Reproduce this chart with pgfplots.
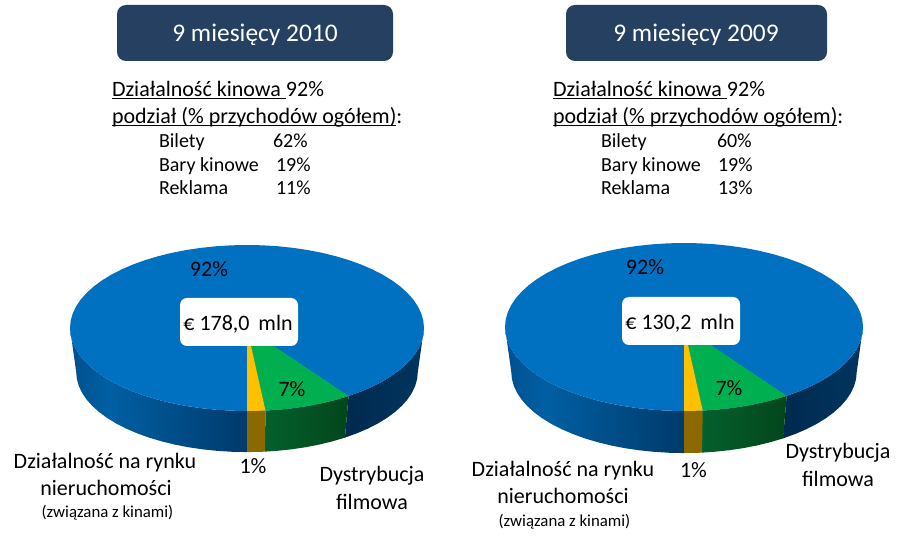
\documentclass[border=0pt]{standalone}
\usepackage{fontspec}
\setmainfont{Carlito}
\usepackage{pgfplots}
\usepackage{pgfplotstable}
\pgfplotsset{compat=1.18}
\definecolor{navy}{HTML}{254061}
\definecolor{topblue}{HTML}{0070C0}
\definecolor{topgreen}{HTML}{00B050}
\definecolor{topamber}{HTML}{FFC000}
\definecolor{sideamber}{HTML}{8C6900}
\definecolor{blA}{HTML}{00508E}
\definecolor{blB}{HTML}{005FA3}
\definecolor{blC}{HTML}{00528F}
\definecolor{blD}{HTML}{003A6B}
\definecolor{brA}{HTML}{002A4F}
\definecolor{brB}{HTML}{00355F}
\definecolor{grA}{HTML}{04602C}
\definecolor{grB}{HTML}{03461C}
% side shadings, the path fits between 25bp and 75bp
\pgfdeclarehorizontalshading{sideblueL}{100bp}{
  color(0bp)=(blA); color(25bp)=(blA); color(36bp)=(blB);
  color(50bp)=(blC); color(75bp)=(blD); color(100bp)=(blD)}
\pgfdeclarehorizontalshading{sideblueR}{100bp}{
  color(0bp)=(brA); color(25bp)=(brA); color(75bp)=(brB); color(100bp)=(brB)}
\pgfdeclarehorizontalshading{sidegreen}{100bp}{
  color(0bp)=(grA); color(25bp)=(grA); color(75bp)=(grB); color(100bp)=(grB)}
% unit pie outline, d=1 is the lower rim
\pgfplotstableread{
x y
1.0000 0
.9962 .0872
.9848 .1736
.9659 .2588
.9397 .3420
.9063 .4226
.8660 .5000
.8192 .5736
.7660 .6428
.7071 .7071
.6428 .7660
.5736 .8192
.5000 .8660
.4226 .9063
.3420 .9397
.2588 .9659
.1736 .9848
.0872 .9962
0 1
-.0872 .9962
-.1736 .9848
-.2588 .9659
-.3420 .9397
-.4226 .9063
-.5000 .8660
-.5736 .8192
-.6428 .7660
-.7071 .7071
-.7660 .6428
-.8192 .5736
-.8660 .5000
-.9063 .4226
-.9397 .3420
-.9659 .2588
-.9848 .1736
-.9962 .0872
-1.0000 0
-.9962 -.0872
-.9848 -.1736
-.9659 -.2588
-.9397 -.3420
-.9063 -.4226
-.8660 -.5000
-.8192 -.5736
-.7660 -.6428
-.7071 -.7071
-.6428 -.7660
-.5736 -.8192
-.5000 -.8660
-.4226 -.9063
-.3420 -.9397
-.2588 -.9659
-.1736 -.9848
-.0872 -.9962
0 -1
.0872 -.9962
.1736 -.9848
.2588 -.9659
.3420 -.9397
.4226 -.9063
.5000 -.8660
.5736 -.8192
.6428 -.7660
.7071 -.7071
.7660 -.6428
.8192 -.5736
.8660 -.5000
.9063 -.4226
.9397 -.3420
.9659 -.2588
.9848 -.1736
.9962 -.0872
}\topface
\pgfplotstableread{
x y
0 0
.5736 .8192
.5000 .8660
.4226 .9063
.3420 .9397
.2588 .9659
.1736 .9848
.1045 .9945
}\wedgegreen
\pgfplotstableread{
x y
0 0
.1045 .9945
.0872 .9962
0 1
}\wedgeamber
\pgfplotstableread{
x y d
0 1 0
-.0872 .9962 0
-.1736 .9848 0
-.2588 .9659 0
-.3420 .9397 0
-.4226 .9063 0
-.5000 .8660 0
-.5736 .8192 0
-.6428 .7660 0
-.7071 .7071 0
-.7660 .6428 0
-.8192 .5736 0
-.8660 .5000 0
-.9063 .4226 0
-.9397 .3420 0
-.9659 .2588 0
-.9848 .1736 0
-.9962 .0872 0
-1.0000 0 0
-1.0000 0 1
-.9962 .0872 1
-.9848 .1736 1
-.9659 .2588 1
-.9397 .3420 1
-.9063 .4226 1
-.8660 .5000 1
-.8192 .5736 1
-.7660 .6428 1
-.7071 .7071 1
-.6428 .7660 1
-.5736 .8192 1
-.5000 .8660 1
-.4226 .9063 1
-.3420 .9397 1
-.2588 .9659 1
-.1736 .9848 1
-.0872 .9962 1
0 1 1
}\sideleft
\pgfplotstableread{
x y d
1.0000 0 0
.9962 .0872 0
.9848 .1736 0
.9659 .2588 0
.9397 .3420 0
.9063 .4226 0
.8660 .5000 0
.8192 .5736 0
.7660 .6428 0
.7071 .7071 0
.6428 .7660 0
.5736 .8192 0
.5736 .8192 1
.6428 .7660 1
.7071 .7071 1
.7660 .6428 1
.8192 .5736 1
.8660 .5000 1
.9063 .4226 1
.9397 .3420 1
.9659 .2588 1
.9848 .1736 1
.9962 .0872 1
1.0000 0 1
}\sideright
\pgfplotstableread{
x y d
.5736 .8192 0
.5000 .8660 0
.4226 .9063 0
.3420 .9397 0
.2588 .9659 0
.1736 .9848 0
.1045 .9945 0
.1045 .9945 1
.1736 .9848 1
.2588 .9659 1
.3420 .9397 1
.4226 .9063 1
.5000 .8660 1
.5736 .8192 1
}\sidegreentab
\pgfplotstableread{
x y d
.1045 .9945 0
.0872 .9962 0
0 1 0
0 1 1
.0872 .9962 1
.1045 .9945 1
}\sideambertab
% pie: cx cy rx ry depth
\newcommand{\pie}[5]{
  \addplot[draw=none,shading=sideblueL] table[x expr={#1+#3*\thisrow{x}*(1-.035*\thisrow{d})},y expr={#2+#4*\thisrow{y}*(1-.035*\thisrow{d})+#5*\thisrow{d}}] {\sideleft} -- cycle;
  \addplot[draw=none,shading=sideblueR] table[x expr={#1+#3*\thisrow{x}*(1-.035*\thisrow{d})},y expr={#2+#4*\thisrow{y}*(1-.035*\thisrow{d})+#5*\thisrow{d}}] {\sideright} -- cycle;
  \addplot[draw=none,shading=sidegreen] table[x expr={#1+#3*\thisrow{x}*(1-.035*\thisrow{d})},y expr={#2+#4*\thisrow{y}*(1-.035*\thisrow{d})+#5*\thisrow{d}}] {\sidegreentab} -- cycle;
  \addplot[draw=none,fill=sideamber] table[x expr={#1+#3*\thisrow{x}*(1-.035*\thisrow{d})},y expr={#2+#4*\thisrow{y}*(1-.035*\thisrow{d})+#5*\thisrow{d}}] {\sideambertab} -- cycle;
  \addplot[draw=none,fill=topblue] table[x expr={#1+#3*\thisrow{x}},y expr={#2+#4*\thisrow{y}}] {\topface} -- cycle;
  \addplot[draw=none,fill=topgreen] table[x expr={#1+#3*\thisrow{x}},y expr={#2+#4*\thisrow{y}}] {\wedgegreen} -- cycle;
  \addplot[draw=none,fill=topamber] table[x expr={#1+#3*\thisrow{x}},y expr={#2+#4*\thisrow{y}}] {\wedgeamber} -- cycle;
}
\newcommand{\ul}[1]{\leavevmode\setbox0\hbox{#1}\rlap{\rule[-2.4pt]{\wd0}{1.1pt}}\box0\relax}
\newcommand{\fsz}[1]{\fontsize{#1}{#1}\selectfont}
\begin{document}
\begin{tikzpicture}[every node/.style={inner sep=0pt, outer sep=0pt}]
\begin{axis}[
  scale only axis, width=903pt, height=537pt,
  xmin=0, xmax=903, ymin=0, ymax=537, y dir=reverse,
  hide axis, clip=false,
]
\path (axis cs:0,0) rectangle (axis cs:903,537);
\pie{247}{328}{177}{83}{44}
\pie{684}{327}{179}{84}{45}

\fill[navy,rounded corners=9pt] (axis cs:117,5) rectangle (axis cs:393,61);
\fill[navy,rounded corners=9pt] (axis cs:566,5) rectangle (axis cs:827,61);
\node[white,anchor=base] at (axis cs:255,42) {\fsz{25.4}9 miesięcy 2010};
\node[white,anchor=base] at (axis cs:696,42) {\fsz{25.4}9 miesięcy 2009};

\fill[white,rounded corners=7pt] (axis cs:180,298) rectangle (axis cs:298,346);
\fill[white,rounded corners=7pt] (axis cs:622,297) rectangle (axis cs:740,345);
\node[anchor=base] at (axis cs:238,331) {\fsz{22}€ 178,0\hspace{.4em}mln};
\node[anchor=base] at (axis cs:680,330) {\fsz{22}€ 130,2\hspace{.4em}mln};

\node[anchor=base west] at (axis cs:112,97) {\fsz{22}\ul{Działalność kinowa }92\%};
\node[anchor=base west] at (axis cs:112,124) {\fsz{22}\ul{podział (\% przychodów ogółem)}:};
\node[anchor=base west] at (axis cs:159,148) {\fsz{20}Bilety};
\node[anchor=base west] at (axis cs:159,172) {\fsz{20}Bary kinowe};
\node[anchor=base west] at (axis cs:159,195) {\fsz{20}Reklama};
\node[anchor=base west] at (axis cs:273,148) {\fsz{20}62\%};
\node[anchor=base west] at (axis cs:276,172) {\fsz{20}19\%};
\node[anchor=base west] at (axis cs:276,195) {\fsz{20}11\%};

\node[anchor=base west] at (axis cs:553,97) {\fsz{22}\ul{Działalność kinowa }92\%};
\node[anchor=base west] at (axis cs:553,124) {\fsz{22}\ul{podział (\% przychodów ogółem)}:};
\node[anchor=base west] at (axis cs:601,148) {\fsz{20}Bilety};
\node[anchor=base west] at (axis cs:601,172) {\fsz{20}Bary kinowe};
\node[anchor=base west] at (axis cs:601,195) {\fsz{20}Reklama};
\node[anchor=base west] at (axis cs:717,148) {\fsz{20}60\%};
\node[anchor=base west] at (axis cs:718,172) {\fsz{20}19\%};
\node[anchor=base west] at (axis cs:718,195) {\fsz{20}13\%};

\node[anchor=base] at (axis cs:209,277) {\fsz{22}92\%};
\node[anchor=base] at (axis cs:292,397) {\fsz{22}7\%};
\node[anchor=base] at (axis cs:253,473) {\fsz{22}1\%};
\node[anchor=base] at (axis cs:645,275) {\fsz{22}92\%};
\node[anchor=base] at (axis cs:729,396) {\fsz{22}7\%};
\node[anchor=base] at (axis cs:693.5,478) {\fsz{22}1\%};

\node[anchor=base] at (axis cs:105,468) {\fsz{22}Działalność na rynku};
\node[anchor=base] at (axis cs:106,495) {\fsz{22}nieruchomości};
\node[anchor=base] at (axis cs:107.5,517) {\fsz{16.8}(związana z kinami)};
\node[anchor=base] at (axis cs:372,482) {\fsz{22}Dystrybucja};
\node[anchor=base] at (axis cs:372,509) {\fsz{22}filmowa};

\node[anchor=base] at (axis cs:563,476) {\fsz{22}Działalność na rynku};
\node[anchor=base] at (axis cs:563,503) {\fsz{22}nieruchomości};
\node[anchor=base] at (axis cs:564.5,526) {\fsz{16.8}(związana z kinami)};
\node[anchor=base] at (axis cs:838,459) {\fsz{22}Dystrybucja};
\node[anchor=base] at (axis cs:838,486) {\fsz{22}filmowa};
\end{axis}
\end{tikzpicture}
\end{document}
